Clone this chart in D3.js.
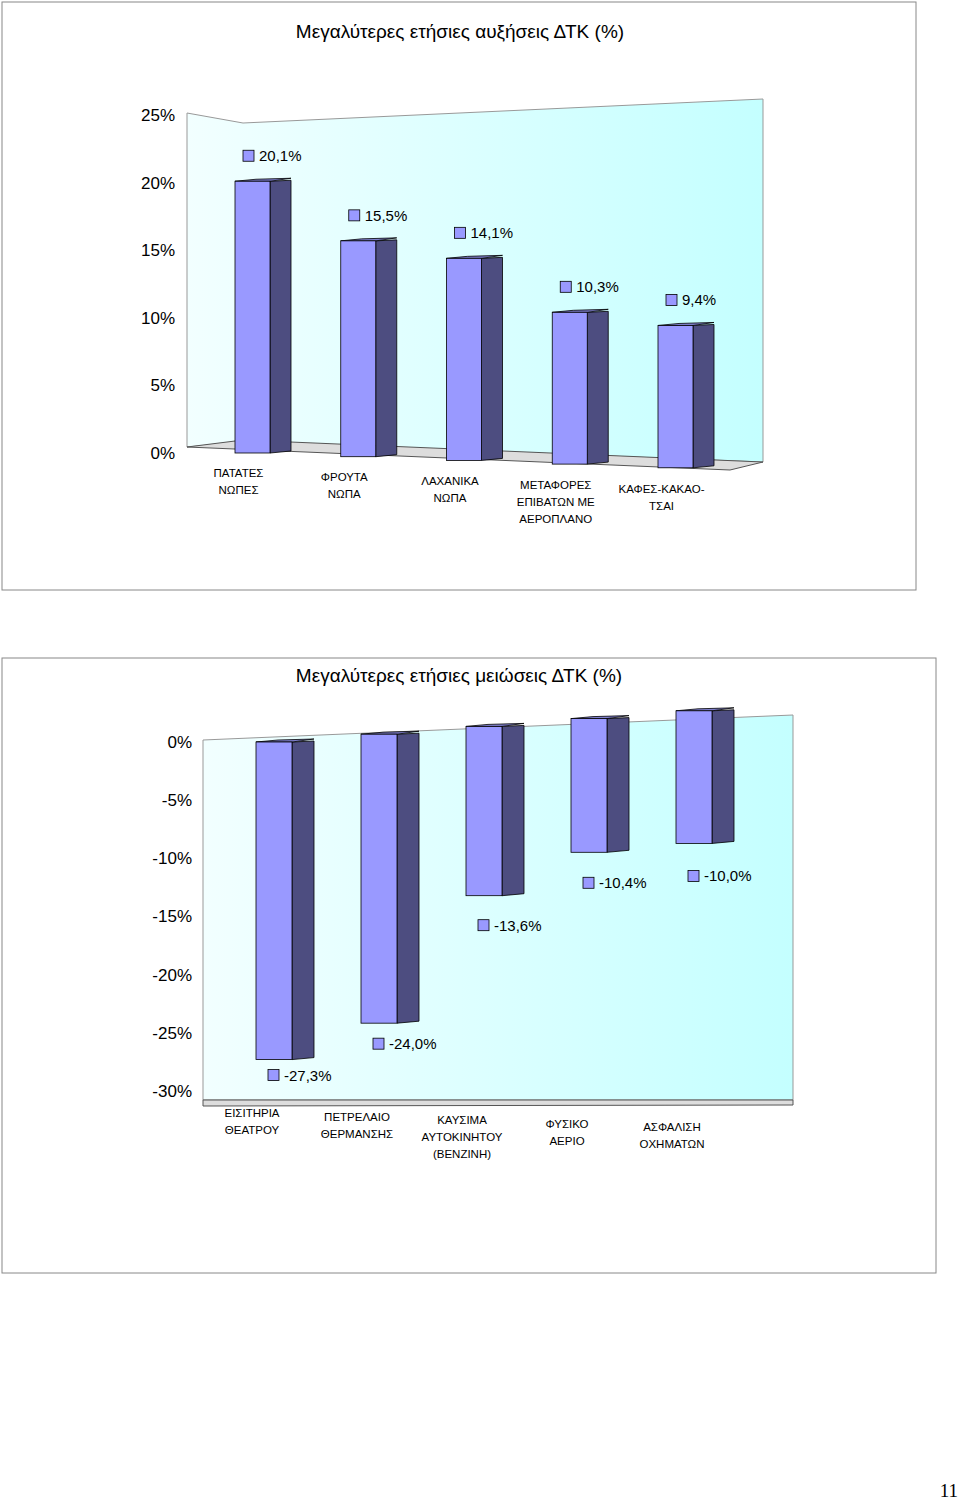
<!DOCTYPE html>
<html>
<head>
<meta charset="utf-8">
<script src="https://cdn.jsdelivr.net/npm/d3@7"></script>
<style>
  body { margin: 0; background: #fff; }
  svg { display: block; font-family: Arial, "Liberation Sans", sans-serif; }
</style>
</head>
<body>
<svg id="chart" width="960" height="1500"></svg>
<script>
// chart 1 data
const upCategories = [["ΠΑΤΑΤΕΣ", "ΝΩΠΕΣ"], ["ΦΡΟΥΤΑ", "ΝΩΠΑ"], ["ΛΑΧΑΝΙΚΑ", "ΝΩΠΑ"],
  ["ΜΕΤΑΦΟΡΕΣ", "ΕΠΙΒΑΤΩΝ ΜΕ", "ΑΕΡΟΠΛΑΝΟ"], ["ΚΑΦΕΣ-ΚΑΚΑΟ-", "ΤΣΑΙ"]];
const upValues = [20.1, 15.5, 14.1, 10.3, 9.4];
const upTicks = [0, 5, 10, 15, 20, 25];

// chart 2 data
const downCategories = [["ΕΙΣΙΤΗΡΙΑ", "ΘΕΑΤΡΟΥ"], ["ΠΕΤΡΕΛΑΙΟ", "ΘΕΡΜΑΝΣΗΣ"],
  ["ΚΑΥΣΙΜΑ", "ΑΥΤΟΚΙΝΗΤΟΥ", "(ΒΕΝΖΙΝΗ)"], ["ΦΥΣΙΚΟ", "ΑΕΡΙΟ"], ["ΑΣΦΑΛΙΣΗ", "ΟΧΗΜΑΤΩΝ"]];
const downValues = [-27.3, -24.0, -13.6, -10.4, -10.0];
const downTicks = [0, -5, -10, -15, -20, -25, -30];

const svg = d3.select("#chart");
const fmt = v => d3.format(".1f")(v).replace(".", ",").replace("−", "-") + "%";

const defs = svg.append("defs");
const grad = defs.append("linearGradient").attr("id", "wall");
grad.append("stop").attr("offset", "0%").attr("stop-color", "#f2ffff");
grad.append("stop").attr("offset", "100%").attr("stop-color", "#c4ffff");

function drawChart(cfg) {
  const g = svg.append("g");
  g.append("rect").attr("x", cfg.frame[0]).attr("y", cfg.frame[1])
    .attr("width", cfg.frame[2]).attr("height", cfg.frame[3])
    .attr("fill", "#fff").attr("stroke", "#888").attr("stroke-width", 1);
  g.append("text").attr("x", cfg.titleX).attr("y", cfg.titleY).attr("text-anchor", "middle")
    .attr("font-size", 19).text(cfg.title);

  // walls
  g.append("polygon").attr("points", cfg.wall.map(p => p.join(",")).join(" "))
    .attr("fill", "url(#wall)").attr("stroke", "#999").attr("stroke-width", 1);
  g.append("polygon").attr("points", cfg.floor.map(p => p.join(",")).join(" "))
    .attr("fill", "#ddd").attr("stroke", "#555").attr("stroke-width", 1);

  const y = d3.scaleLinear().domain(cfg.domain).range(cfg.range);
  g.append("g").attr("transform", `translate(${cfg.axisX},0)`)
    .call(d3.axisLeft(y).tickValues(cfg.ticks).tickSize(0).tickPadding(0).tickFormat(d => d + "%"))
    .call(a => a.select(".domain").remove())
    .selectAll("text").attr("font-size", 17).attr("font-family", "Arial, 'Liberation Sans', sans-serif").attr("fill", "#000");

  const x = d3.scalePoint().domain(d3.range(cfg.values.length)).range(cfg.xRange);
  const w = cfg.barW, side = cfg.side, depth = 6;

  cfg.values.forEach((v, i) => {
    const k = 1 + cfg.persp * i;
    const base = y(0) + cfg.baseShift * i;
    const end = base - (y(0) - y(v)) * k;
    const x0 = x(i);
    const top = Math.min(base, end), bot = Math.max(base, end);
    g.append("polygon").attr("points",
      [[x0 + w, top], [x0 + w + side, top - 1], [x0 + w + side, bot - 2], [x0 + w, bot]].map(p => p.join(",")).join(" "))
      .attr("fill", "#4d4d80").attr("stroke", "#000").attr("stroke-width", 0.8);
    g.append("polygon").attr("points",
      [[x0, top], [x0 + side, top - depth / 3], [x0 + w + side, top - 1 - depth / 3], [x0 + w, top]].map(p => p.join(",")).join(" "))
      .attr("fill", "#7f7fcc").attr("stroke", "#000").attr("stroke-width", 0.8);
    g.append("rect").attr("x", x0).attr("y", top).attr("width", w).attr("height", bot - top)
      .attr("fill", "#9999ff").attr("stroke", "#000").attr("stroke-width", 0.8);

    const ly = cfg.labelY(end, i);
    const lx = x0 + cfg.labelDx;
    g.append("rect").attr("x", lx).attr("y", ly - 6).attr("width", 11).attr("height", 11)
      .attr("fill", "#9999ff").attr("stroke", "#000").attr("stroke-width", 0.8);
    g.append("text").attr("x", lx + 16).attr("y", ly + 5).attr("font-size", 15).text(fmt(v));

    const cx = x0 + w / 2 + cfg.catDx;
    const t = g.append("text").attr("text-anchor", "middle").attr("font-size", 11.5)
      .attr("y", cfg.catY + cfg.catShift * i);
    cfg.cats[i].forEach((s, j) => t.append("tspan").attr("x", cx).attr("dy", j ? 17 : 0).text(s));
  });
}

drawChart({
  frame: [2, 2, 914, 588], title: "Μεγαλύτερες ετήσιες αυξήσεις ΔΤΚ (%)", titleX: 460, titleY: 38,
  wall: [[187, 113], [243, 123], [763, 99], [763, 462], [243, 442], [187, 447]],
  floor: [[187, 447], [243, 440], [763, 462], [730, 470]],
  domain: [0, 25], range: [453, 115], ticks: upTicks, axisX: 175,
  values: upValues, cats: upCategories, xRange: [235, 658], barW: 35, side: 21, persp: 0.03, baseShift: 3.7,
  labelY: (end, i) => end - 25, labelDx: 8, catDx: -14, catY: 477, catShift: 4
});

drawChart({
  frame: [2, 658, 934, 615], title: "Μεγαλύτερες ετήσιες μειώσεις ΔΤΚ (%)", titleX: 459, titleY: 682,
  wall: [[203, 740], [793, 715], [793, 1100], [203, 1100]],
  floor: [[203, 1100], [793, 1100], [793, 1105], [203, 1106]],
  domain: [-30, 0], range: [1091, 742], ticks: downTicks, axisX: 192,
  values: downValues, cats: downCategories, xRange: [256, 676], barW: 36, side: 22, persp: 0.035, baseShift: -7.8,
  labelY: (end, i) => end + [16, 21, 30, 31, 33][i], labelDx: 12, catDx: -22, catY: 1117, catShift: 3.5
});

svg.append("text").attr("x", 958).attr("y", 1497).attr("text-anchor", "end")
  .attr("font-family", "'Liberation Serif', serif").attr("font-size", 19).text("11");
</script>
</body>
</html>
